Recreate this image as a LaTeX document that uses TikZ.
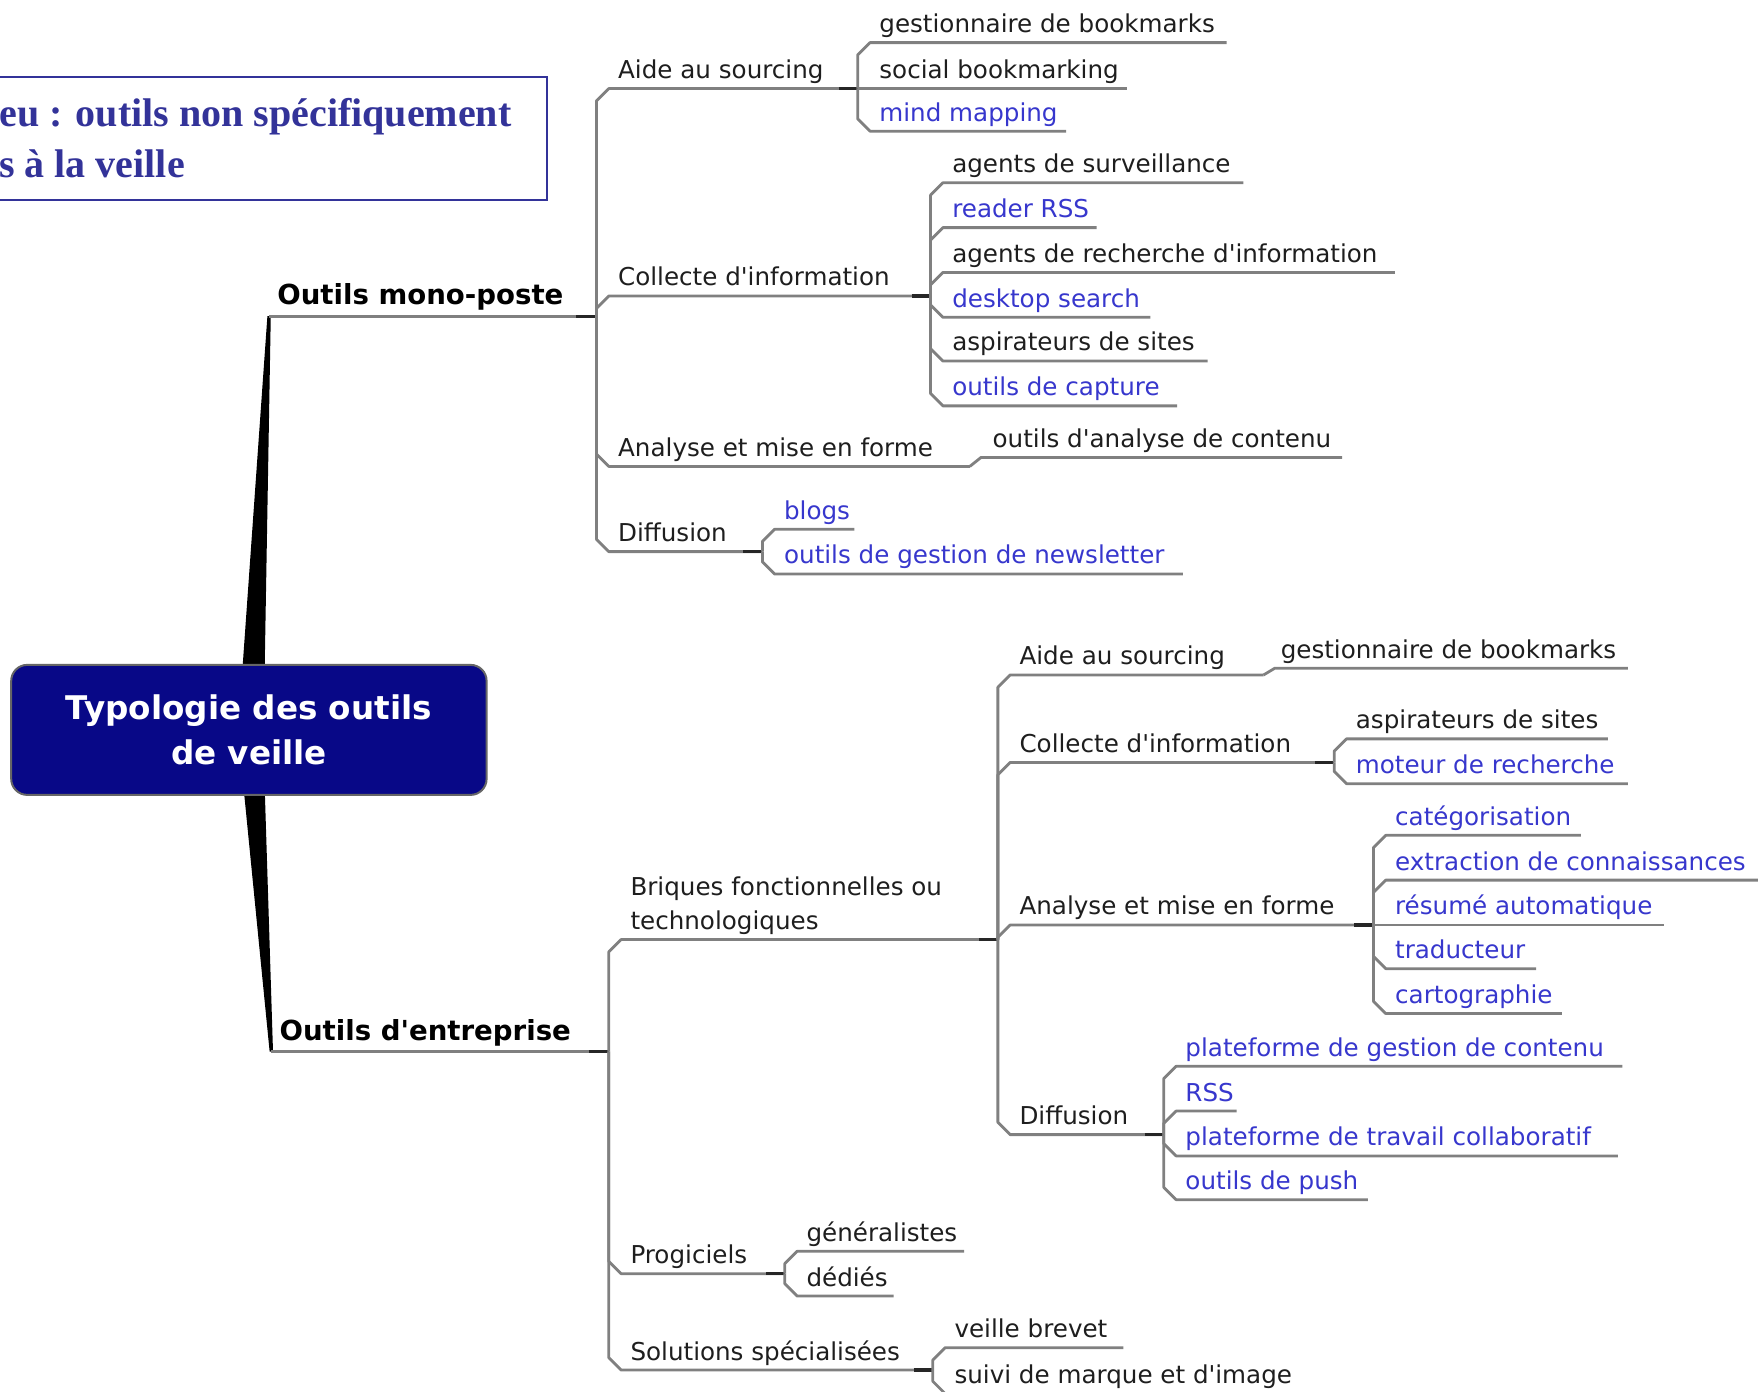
\documentclass[tikz,border=0pt]{standalone}
\usepackage{fontspec}
\setmainfont{DejaVu Sans}[Ligatures=TeXOff]
\newfontfamily\tnr{Liberation Serif}
\usetikzlibrary{calc}
\definecolor{txtblack}{RGB}{30,30,30}
\definecolor{txtblue}{RGB}{55,55,205}
\definecolor{linegray}{RGB}{128,128,128}
\definecolor{navybox}{RGB}{8,8,135}
\definecolor{hdrblue}{RGB}{51,51,153}
\newcommand\mmfont{\fontsize{12.3}{16.8}\selectfont}
% #1 junction, #2 junction x, #3 sign, #4 child line y, #5 line end x, #6 node name, #7 style, #8 text
\newcommand\mmkid[8]{%
  \draw[conn] (#1) -- (#2,{#4+(#3)*11}) -- ({#2+11},#4) -- (#5,#4);
  \node[#7] (#6) at ({#2+19},{#4-9}) {#8};}
\begin{document}
\begin{tikzpicture}[x=0.5606pt,y=-0.5606pt,
  conn/.style={draw=linegray, line width=1.4pt, line join=round},
  connend/.style={draw=black!85, line width=1.6pt},
  lbl/.style={inner sep=0pt, anchor=base west, text=txtblack, font=\mmfont},
  lblb/.style={lbl, text=txtblue},
  mainlbl/.style={inner sep=0pt, anchor=base west, text=black, font=\bfseries\fontsize{13.8}{16}\selectfont}]
\useasboundingbox (0,0) rectangle (1568,1241);
\fill[white] (0,0) rectangle (1568,1241);

% header box (cut by the left edge)
\draw[hdrblue, line width=1pt] (-5,69) rectangle (488,178);
\node[anchor=base west, inner sep=0pt, text=hdrblue, font=\tnr\bfseries\fontsize{20}{24}\selectfont] (h1) at (-1,113) {eu : outils non spécifiquement};
\node[anchor=base west, inner sep=0pt, text=hdrblue, font=\tnr\bfseries\fontsize{20}{24}\selectfont] (h2) at (-1,158) {s à la veille};

% ===== main branches =====
\coordinate (r1) at (240,282);
\coordinate (j1) at (532,282);
\coordinate (r2) at (242,938);
\coordinate (j2) at (543,938);
\fill[black] (216,600) -- (236,600) -- ($(r1)+(1.5,0)$) -- ($(r1)+(-1.5,0)$) -- cycle;
\fill[black] (217,700) -- (236,700) -- ($(r2)+(1.5,0)$) -- ($(r2)+(-1.5,0)$) -- cycle;
\draw[conn] (r1) -- (j1);
\draw[connend] (514,282) -- (j1);
\draw[conn] (r2) -- (j2);
\draw[connend] (525,938) -- (j2);
\node[mainlbl] (mono) at (247,272) {Outils mono-poste};
\node[mainlbl] (entr) at (249,928) {Outils d'entreprise};

% root
\node[rounded corners=8pt, fill=navybox, draw=black!60, line width=1pt,
      minimum width=237.7pt, minimum height=65pt, align=center, text=white,
      font=\bfseries\fontsize{16.3}{22.5}\selectfont] (root) at (222,651)
      {Typologie des outils\\de veille};

% ===== Outils mono-poste =====
\mmkid{j1}{532}{+1}{79}{765}{a1}{lbl}{Aide au sourcing}
\mmkid{j1}{532}{+1}{264}{830}{c1}{lbl}{Collecte d'information}
\mmkid{j1}{532}{-1}{416}{865}{an1}{lbl}{Analyse et mise en forme}
\mmkid{j1}{532}{-1}{492}{680}{d1}{lbl}{Diffusion}
\coordinate (j11) at (765,79);
\coordinate (j12) at (830,264);
\coordinate (j13) at (865,416);
\coordinate (j14) at (680,492);
\draw[connend] (748,79) -- (j11);
\draw[connend] (813,264) -- (j12);
\draw[connend] (663,492) -- (j14);

\mmkid{j11}{765}{+1}{38}{1094}{a11}{lbl}{gestionnaire de bookmarks}
\mmkid{j11}{765}{0}{79}{1005}{a12}{lbl}{social bookmarking}
\mmkid{j11}{765}{-1}{117}{951}{a13}{lblb}{mind mapping}

\mmkid{j12}{830}{+1}{163}{1109}{c11}{lbl}{agents de surveillance}
\mmkid{j12}{830}{+1}{203}{978}{c12}{lblb}{reader RSS}
\mmkid{j12}{830}{+1}{243}{1244}{c13}{lbl}{agents de recherche d'information}
\mmkid{j12}{830}{-1}{283}{1026}{c14}{lblb}{desktop search}
\mmkid{j12}{830}{-1}{322}{1077}{c15}{lbl}{aspirateurs de sites}
\mmkid{j12}{830}{-1}{362}{1050}{c16}{lblb}{outils de capture}

\draw[conn] (j13) -- (875,408) -- (1197,408);
\node[lbl] (an11) at (885,399) {outils d'analyse de contenu};

\mmkid{j14}{680}{+1}{472}{762}{d11}{lblb}{blogs}
\mmkid{j14}{680}{-1}{512}{1055}{d12}{lblb}{outils de gestion de newsletter}

% ===== Outils d'entreprise =====
\draw[conn] (j2) -- (543,849) -- (554,838) -- (890,838);
\node[lbl, anchor=south west, text depth=0pt, align=left] (br) at (562,829) {Briques fonctionnelles ou\\technologiques};
\mmkid{j2}{543}{-1}{1136}{700}{pg}{lbl}{Progiciels}
\mmkid{j2}{543}{-1}{1222}{832}{ss}{lbl}{Solutions spécialisées}
\coordinate (j21) at (890,838);
\coordinate (j22) at (700,1136);
\coordinate (j23) at (832,1222);
\draw[connend] (873,838) -- (j21);
\draw[connend] (683,1136) -- (j22);
\draw[connend] (815,1222) -- (j23);

\mmkid{j21}{890}{+1}{602}{1127}{b1}{lbl}{Aide au sourcing}
\mmkid{j21}{890}{+1}{680}{1190}{b2}{lbl}{Collecte d'information}
\mmkid{j21}{890}{+1}{825}{1225}{b3}{lbl}{Analyse et mise en forme}
\mmkid{j21}{890}{-1}{1012}{1038}{b4}{lbl}{Diffusion}
\coordinate (j211) at (1127,602);
\coordinate (j212) at (1190,680);
\coordinate (j213) at (1225,825);
\coordinate (j214) at (1038,1012);
\draw[connend] (1173,680) -- (j212);
\draw[connend] (1208,825) -- (j213);
\draw[connend] (1021,1012) -- (j214);

\draw[conn] (j211) -- (1137,596) -- (1452,596);
\node[lbl] (b11) at (1142,587) {gestionnaire de bookmarks};

\mmkid{j212}{1190}{+1}{659}{1434}{b21}{lbl}{aspirateurs de sites}
\mmkid{j212}{1190}{-1}{699}{1452}{b22}{lblb}{moteur de recherche}

\mmkid{j213}{1225}{+1}{745}{1410}{b31}{lblb}{catégorisation}
\mmkid{j213}{1225}{+1}{785}{1575}{b32}{lblb}{extraction de connaissances}
\mmkid{j213}{1225}{0}{825}{1484}{b33}{lblb}{résumé automatique}
\mmkid{j213}{1225}{-1}{864}{1370}{b34}{lblb}{traducteur}
\mmkid{j213}{1225}{-1}{904}{1393}{b35}{lblb}{cartographie}

\mmkid{j214}{1038}{+1}{951}{1447}{b41}{lblb}{plateforme de gestion de contenu}
\mmkid{j214}{1038}{+1}{991}{1103}{b42}{lblb}{RSS}
\mmkid{j214}{1038}{-1}{1031}{1443}{b43}{lblb}{plateforme de travail collaboratif}
\mmkid{j214}{1038}{-1}{1070}{1220}{b44}{lblb}{outils de push}

\mmkid{j22}{700}{+1}{1116}{860}{p1}{lbl}{généralistes}
\mmkid{j22}{700}{-1}{1156}{797}{p2}{lbl}{dédiés}

\mmkid{j23}{832}{+1}{1202}{1002}{s1}{lbl}{veille brevet}
\mmkid{j23}{832}{-1}{1243}{1160}{s2}{lbl}{suivi de marque et d'image}
\end{tikzpicture}
\end{document}
